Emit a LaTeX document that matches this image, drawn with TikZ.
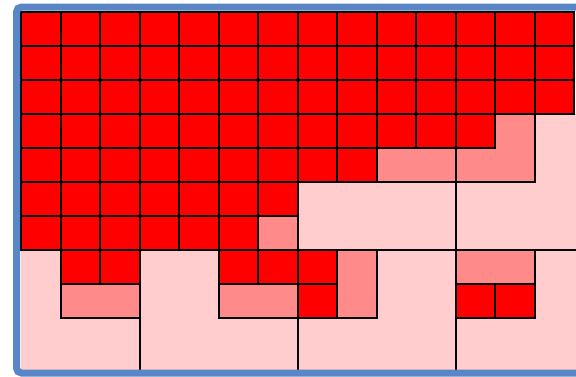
\documentclass[tikz,border=0pt]{standalone}
\usepackage{tikz}
\begin{document}
\begin{tikzpicture}[x=39.5pt,y=-34pt,
    cellr/.style={fill=colR,draw=black,line width=2pt},
    cellp/.style={fill=colP,draw=black,line width=2pt},
    sep/.style={draw=black,line width=2pt}]
  % colores de la rejilla
  \definecolor{colR}{RGB}{255,0,0}
  \definecolor{colP}{RGB}{255,138,138}
  \definecolor{colL}{RGB}{255,205,205}
  \definecolor{colB}{RGB}{88,134,198}
  \useasboundingbox (-21pt,12pt) rectangle (555pt,-364pt);
  \fill[colL] (0,3) rectangle (14.2,10.6);
  % bloques llenos, fila por fila (fila/ultima columna)
  \foreach \j/\n in {0/13,1/13,2/13,3/11,4/8,5/6,6/5}{
    \foreach \i in {0,...,\n}
      \draw[cellr] (\i,\j) rectangle ++(1,1);
  }
  \foreach \i/\j in {1/7,2/7,5/7,6/7,7/7,7/8,11/8,12/8}
    \draw[cellr] (\i,\j) rectangle ++(1,1);
  % bloques a medias
  \foreach \a/\b/\c/\d in {6/6/7/7,9/4/11/5,1/8/3/9,5/8/7/9,8/7/9/9,11/7/13/8}
    \draw[cellp] (\a,\b) rectangle (\c,\d);
  \draw[cellp] (12,3) -- (13,3) -- (13,5) -- (11,5) -- (11,4) -- (12,4) -- cycle;
  % separaciones
  \draw[sep] (3,7) -- (3,10.6);
  \draw[sep] (7,5) -- (7,10.6);
  \draw[sep] (11,4) -- (11,10.6);
  \draw[sep] (7,7) -- (14.2,7);
  % marco
  \draw[colB,line width=7pt,rounded corners=5pt] (-4.5pt,5pt) rectangle (600pt,-361pt);
\end{tikzpicture}
\end{document}
